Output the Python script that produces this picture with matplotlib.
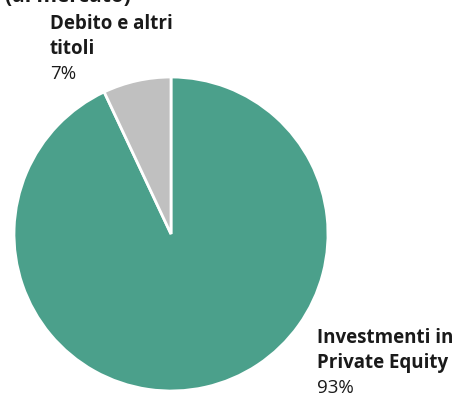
import matplotlib
matplotlib.use("Agg")
import matplotlib.pyplot as plt

labels = ["Investmenti in\nPrivate Equity", "Debito e altri\ntitoli"]
shares = [93, 7]
colors = ["#4ba08b", "#c0c0c0"]

W, H = 462, 396
fig = plt.figure(figsize=(W / 100, H / 100), dpi=100)

cx, cy, r = 171, 234, 157
ax = fig.add_axes([(cx - r) / W, (H - cy - r) / H, 2 * r / W, 2 * r / H])
ax.pie(shares, colors=colors, startangle=90, counterclock=False,
       radius=1, wedgeprops=dict(edgecolor="white", linewidth=2))
ax.set_xlim(-1, 1)
ax.set_ylim(-1, 1)
ax.set_aspect("equal")
ax.axis("off")

fam = ["Open Sans", "DejaVu Sans"]
ink = "#1a1a1a"
fs = 13.5
pitch = 25

def px(x, y):
    return x / W, 1 - y / H

# title line cut by the top edge
fig.text(*px(131, 2), "(al mercato)", ha="right", va="baseline",
         fontsize=15, fontweight="bold", family=fam, color=ink)

def block(x, base, name, pct):
    lines = name.split("\n")
    for i, line in enumerate(lines):
        fig.text(*px(x, base + i * pitch), line, ha="left", va="baseline",
                 fontsize=fs, fontweight="bold", family=fam, color=ink)
    fig.text(*px(x, base + len(lines) * pitch), f"{pct}%", ha="left",
             va="baseline", fontsize=fs, family=fam, color=ink)

block(50, 29, labels[1], shares[1])
block(317, 343, labels[0], shares[0])

fig.savefig("out.png", dpi=100)
